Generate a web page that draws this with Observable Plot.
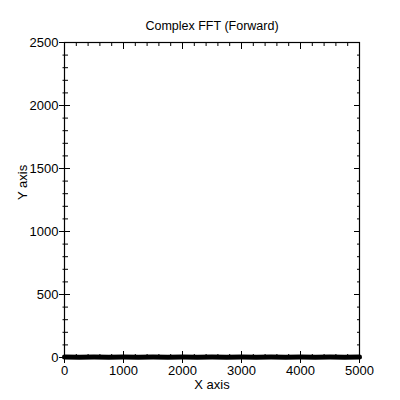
<!DOCTYPE html>
<html><head><meta charset="utf-8">
<script src="https://cdn.jsdelivr.net/npm/d3@7"></script>
<script src="https://cdn.jsdelivr.net/npm/@observablehq/plot@0.6"></script>
<style>body{margin:0;background:#fff;} svg{display:block;}</style>
</head><body><div id="chart"></div>
<script>
const title = "Complex FFT (Forward)";
const xLabel = "X axis";
const yLabel = "Y axis";
const xMajor = [0, 1000, 2000, 3000, 4000, 5000];
const xMinor = [200, 400, 600, 800, 1200, 1400, 1600, 1800, 2200, 2400, 2600, 2800, 3200, 3400, 3600, 3800, 4200, 4400, 4600, 4800];
const yMajor = [0, 500, 1000, 1500, 2000, 2500];
const yMinor = [100, 200, 300, 400, 600, 700, 800, 900, 1100, 1200, 1300, 1400, 1600, 1700, 1800, 1900, 2100, 2200, 2300, 2400];
const freq = [0, 250, 500, 750, 1000, 1250, 1500, 1750, 2000, 2250, 2500, 2750, 3000, 3250, 3500, 3750, 4000, 4250, 4500, 4750, 5000];
const mag  = [3, 2, 3, 2, 3, 2, 3, 2, 3, 2, 3, 2, 3, 2, 3, 2, 3, 2, 3, 2, 3];
const data = freq.map((f, i) => ({f, m: mag[i]}));

const font = "Liberation Sans, Arial, sans-serif";
const blank = () => "";
const fmt = d3.format("d");
const chart = Plot.plot({
  width: 400, height: 400,
  marginLeft: 64, marginRight: 41, marginTop: 42, marginBottom: 43,
  style: {fontFamily: font, fontSize: "13px", background: "white", color: "black"},
  x: {domain: [0, 5000]},
  y: {domain: [0, 2500]},
  marks: [
    Plot.frame({stroke: "black", strokeWidth: 1.2}),
    Plot.line(data, {x: "f", y: "m", stroke: "black", strokeWidth: 5}),
    // bottom ticks
    Plot.axisX(xMajor, {anchor: "bottom", tickSize: -6, tickFormat: blank, label: null}),
    Plot.axisX(xMajor, {anchor: "bottom", tickSize: 6, tickPadding: 2, tickFormat: fmt, label: null, fontSize: 13}),
    Plot.axisX(xMinor, {anchor: "bottom", tickSize: -3, tickFormat: blank, label: null}),
    Plot.axisX(xMinor, {anchor: "bottom", tickSize: 2, tickFormat: blank, label: null}),
    // top ticks
    Plot.axisX(xMajor, {anchor: "top", tickSize: -6, tickFormat: blank, label: null}),
    Plot.axisX(xMinor, {anchor: "top", tickSize: -3, tickFormat: blank, label: null}),
    // left ticks
    Plot.axisY(yMajor, {anchor: "left", tickSize: -6, tickFormat: blank, label: null}),
    Plot.axisY(yMajor, {anchor: "left", tickSize: 5, tickPadding: 1, tickFormat: fmt, label: null, fontSize: 13}),
    Plot.axisY(yMinor, {anchor: "left", tickSize: -4, tickFormat: blank, label: null}),
    Plot.axisY(yMinor, {anchor: "left", tickSize: 1.5, tickFormat: blank, label: null}),
    // right ticks
    Plot.axisY(yMajor, {anchor: "right", tickSize: -6, tickFormat: blank, label: null}),
    Plot.axisY(yMinor, {anchor: "right", tickSize: -3, tickFormat: blank, label: null}),
    Plot.text([title], {frameAnchor: "top", dy: -21, fontSize: 12.5, fill: "black"}),
    Plot.text([xLabel], {frameAnchor: "bottom", dy: 31, fontSize: 13, fill: "black"}),
    Plot.text([yLabel], {frameAnchor: "left", dx: -42, rotate: -90, fontSize: 13, fill: "black"})
  ]
});
document.getElementById("chart").append(chart);
</script>
</body></html>
